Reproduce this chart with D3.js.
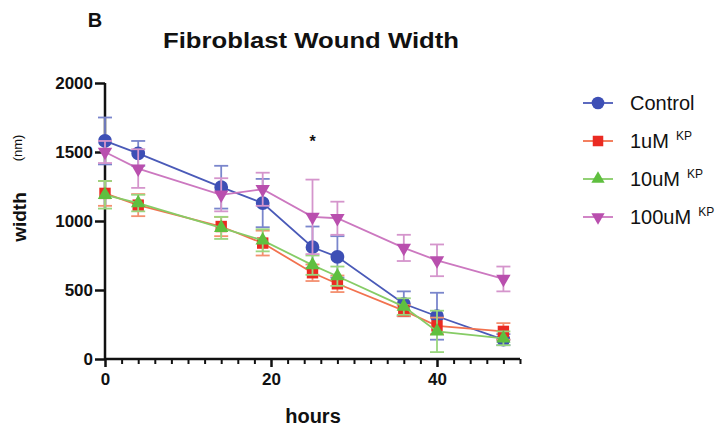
<!DOCTYPE html>
<html><head><meta charset="utf-8">
<script src="https://cdn.jsdelivr.net/npm/d3@7"></script>
<style>body{margin:0;background:#fff}svg{display:block;font-family:"Liberation Sans",Arial,sans-serif}</style>
</head><body><svg id="c" width="726" height="433"></svg>
<script>
const hours = [0, 4, 14, 19, 25, 28, 36, 40, 48];
const seriesNames = ["Control", "1uM", "10uM", "100uM"];
const controlMean = [1580, 1490, 1245, 1130, 810, 740, 400, 310, 140];
const controlErr  = [170, 90, 155, 175, 150, 150, 90, 170, 40];
const kp1Mean     = [1200, 1115, 960, 840, 625, 545, 350, 240, 200];
const kp1Err      = [90, 80, 70, 90, 60, 60, 40, 60, 60];
const kp10Mean    = [1190, 1130, 950, 860, 680, 600, 380, 200, 150];
const kp10Err     = [100, 60, 80, 80, 70, 70, 60, 150, 50];
const kp100Mean   = [1500, 1380, 1190, 1230, 1030, 1020, 805, 715, 580];
const kp100Err    = [80, 140, 120, 120, 270, 120, 95, 115, 90];
const yTicks = [0, 500, 1000, 1500, 2000];
const xTicks = [0, 20, 40];

const svg = d3.select("#c");
const x = d3.scaleLinear().domain([0, 50]).range([105, 520]);
const y = d3.scaleLinear().domain([0, 2000]).range([359, 83]);

const series = [
  {name:seriesNames[0], mean:controlMean, err:controlErr, line:"#4a5ab8", fill:"#3d4fb5", errc:"#7a86cc", sym:d3.symbolCircle, size:150, rot:0},
  {name:seriesNames[1], mean:kp1Mean, err:kp1Err, line:"#f2724f", fill:"#ea2a22", errc:"#f49070", sym:d3.symbolSquare, size:130, rot:0},
  {name:seriesNames[2], mean:kp10Mean, err:kp10Err, line:"#86cc66", fill:"#5fbf3f", errc:"#9ad67e", sym:d3.symbolTriangle, size:90, rot:0},
  {name:seriesNames[3], mean:kp100Mean, err:kp100Err, line:"#cc78c0", fill:"#b94fae", errc:"#d595cc", sym:d3.symbolTriangle, size:90, rot:180}
];

// axes
const yAxis = d3.axisLeft(y).tickValues(yTicks).tickSize(10).tickPadding(2).tickFormat(d3.format("d"));
const gy = svg.append("g").attr("transform","translate(105,0)").call(yAxis);
const xAxis = d3.axisBottom(x).tickValues(xTicks).tickSize(8).tickPadding(6).tickFormat(d3.format("d"));
const gx = svg.append("g").attr("transform","translate(0,359)").call(xAxis);
const xMinor = d3.axisBottom(x).tickValues(d3.range(0, 51, 2).filter(v => v % 20 !== 0)).tickSize(5).tickFormat("");
svg.append("g").attr("transform","translate(0,359)").call(xMinor).call(g=>g.select(".domain").remove())
  .selectAll("line").attr("stroke","#111").attr("stroke-width",2);
[gx, gy].forEach(g => {
  g.select(".domain").attr("stroke","#111").attr("stroke-width",2.5);
  g.selectAll(".tick line").attr("stroke","#111").attr("stroke-width",2.5);
  g.selectAll(".tick text").attr("fill","#111").attr("font-size",17).attr("font-weight","bold");
});
gy.select(".domain").attr("d","M0,83V359");
gx.select(".domain").attr("d","M105,0H520");

// series
series.forEach(s => {
  const pts = hours.map((h,i)=>({h, m:s.mean[i], e:s.err[i]}));
  const g = svg.append("g");
  pts.forEach(p => {
    const cx = x(p.h);
    g.append("line").attr("x1",cx).attr("x2",cx).attr("y1",y(p.m+p.e)).attr("y2",y(p.m-p.e)).attr("stroke",s.errc).attr("stroke-width",1.8);
    [p.m+p.e, p.m-p.e].forEach(v => g.append("line").attr("x1",cx-7).attr("x2",cx+7).attr("y1",y(v)).attr("y2",y(v)).attr("stroke",s.errc).attr("stroke-width",1.8));
  });
  g.append("path").datum(pts).attr("fill","none").attr("stroke",s.line).attr("stroke-width",1.8)
    .attr("d", d3.line().x(p=>x(p.h)).y(p=>y(p.m)));
  g.selectAll("path.m").data(pts).join("path").attr("class","m")
    .attr("d", d3.symbol().type(s.sym).size(s.size))
    .attr("transform", p => `translate(${x(p.h)},${y(p.m)}) rotate(${s.rot})`)
    .attr("fill", s.fill);
});

// significance star
svg.append("text").attr("x", x(25)).attr("y", 147).attr("text-anchor","middle").attr("font-size",16).attr("font-weight","bold").attr("fill","#111").text("*");

// titles
svg.append("text").attr("x",95).attr("y",27).attr("text-anchor","middle").attr("font-size",20).attr("font-weight","bold").attr("fill","#111").text("B");
svg.append("text").attr("x",311).attr("y",48).attr("text-anchor","middle").attr("font-size",22).attr("font-weight","bold").attr("fill","#111")
  .attr("textLength",296).attr("lengthAdjust","spacingAndGlyphs").text("Fibroblast Wound Width");
svg.append("text").attr("x",313).attr("y",423).attr("text-anchor","middle").attr("font-size",20).attr("font-weight","bold").attr("fill","#111").text("hours");
svg.append("text").attr("transform","translate(26,217) rotate(-90)").attr("text-anchor","middle").attr("font-size",19).attr("font-weight","bold").attr("fill","#111").text("width");
svg.append("text").attr("transform","translate(22,148) rotate(-90)").attr("text-anchor","middle").attr("font-size",13).attr("fill","#111").text("(nm)");

// legend
const lg = svg.append("g");
series.forEach((s,i) => {
  const ly = 103 + i*38;
  lg.append("line").attr("x1",583).attr("x2",613).attr("y1",ly).attr("y2",ly).attr("stroke",s.line).attr("stroke-width",1.8);
  lg.append("path").attr("d", d3.symbol().type(s.sym).size(s.size*0.85)).attr("transform",`translate(598,${ly}) rotate(${s.rot})`).attr("fill",s.fill);
  const t = lg.append("text").attr("x",630).attr("y",ly+7).attr("font-size",20).attr("fill","#111").text(s.name);
  if (i>0) t.append("tspan").attr("dx",7).attr("dy",-8).attr("font-size",12).text("KP");
});
</script></body></html>
